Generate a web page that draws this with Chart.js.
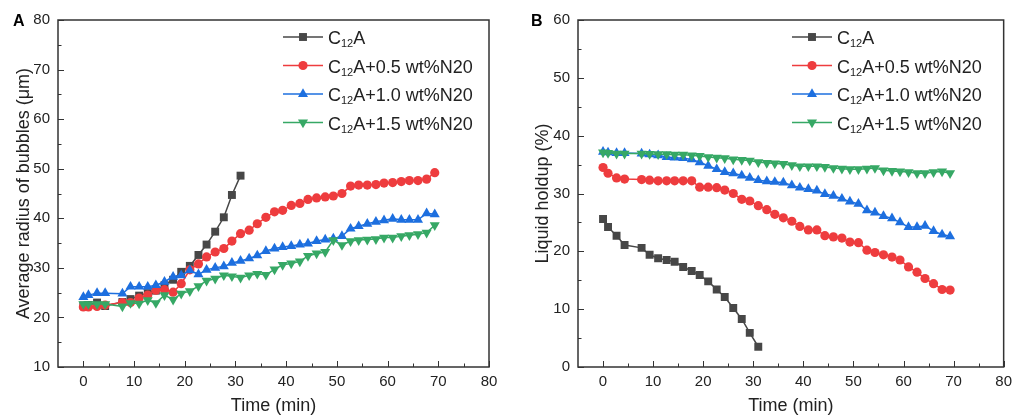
<!DOCTYPE html>
<html>
<head>
<meta charset="utf-8">
<script src="https://cdn.jsdelivr.net/npm/chart.js@4.4.1/dist/chart.umd.min.js"></script>
<style>
body{margin:0;background:#fff;}
#wrap{position:relative;width:1018px;height:415px;}
canvas{position:absolute;top:0;}
</style>
</head>
<body>
<div id="wrap">
  <canvas id="chartA" width="509" height="415" style="left:0"></canvas>
  <canvas id="chartB" width="509" height="415" style="left:509px"></canvas>
</div>
<script>
// sampling times (min), the plain C12A runs stop at 31 min
const times = [0, 1, 2.7, 4.3, 7.7, 9.3, 11, 12.7, 14.3, 16, 17.7, 19.3, 21, 22.7, 24.3, 26, 27.7, 29.3, 31,
  32.7, 34.3, 36, 37.7, 39.3, 41, 42.7, 44.3, 46, 47.7, 49.3, 51, 52.7, 54.3, 56, 57.7, 59.3, 61, 62.7, 64.3, 66, 67.7, 69.3];
const timesC12A = times.slice(0, 19);

const seriesNames = ['C12A', 'C12A+0.5 wt%N20', 'C12A+1.0 wt%N20', 'C12A+1.5 wt%N20'];

// A: average radius of bubbles (um)
const radiusC12A = [22.4, 22.5, 23.0, 22.3, 23.1, 23.7, 24.4, 24.9, 25.4, 26.5, 27.6, 29.2, 30.4, 32.6, 34.7, 37.3, 40.2, 44.7, 48.6];
const radiusN05 = [22.1, 22.1, 22.2, 22.5, 23.0, 23.0, 23.9, 24.5, 25.5, 25.6, 25.1, 26.8, 29.6, 30.8, 32.2, 33.2, 33.9, 35.4, 36.9, 37.6,
  38.9, 40.2, 41.3, 41.6, 42.6, 43.0, 43.8, 44.1, 44.3, 44.5, 45.0, 46.5, 46.7, 46.7, 46.8, 47.1, 47.2, 47.4, 47.6, 47.6, 47.9, 49.2];
const radiusN10 = [24.1, 24.5, 24.9, 24.9, 24.8, 26.2, 26.2, 26.2, 26.5, 27.2, 28.2, 28.5, 29.5, 28.7, 29.6, 30.0, 30.3, 31.0, 31.4, 31.9,
  32.5, 33.4, 33.9, 34.2, 34.4, 34.7, 34.9, 35.4, 35.7, 35.9, 36.4, 37.9, 38.4, 38.9, 39.3, 39.6, 39.9, 39.7, 39.7, 39.7, 41.0, 40.8];
const radiusN15 = [22.7, 22.7, 22.7, 22.7, 22.2, 22.9, 22.8, 23.5, 22.9, 24.5, 23.6, 24.8, 25.3, 26.3, 27.4, 27.8, 28.5, 28.3, 28.0, 28.5,
  28.8, 28.6, 29.7, 30.6, 30.9, 31.3, 32.4, 32.9, 33.2, 35.6, 34.6, 35.4, 35.6, 35.7, 35.8, 36.1, 36.1, 36.4, 36.6, 36.8, 37.1, 38.6];

// B: liquid holdup (%)
const holdupC12A = [25.6, 24.2, 22.7, 21.1, 20.6, 19.4, 18.8, 18.5, 18.2, 17.3, 16.6, 15.9, 14.8, 13.4, 12.1, 10.2, 8.3, 5.9, 3.5];
const holdupN05 = [34.5, 33.5, 32.7, 32.5, 32.4, 32.3, 32.2, 32.2, 32.2, 32.2, 32.2, 31.1, 31.1, 31.0, 30.6, 30.0, 29.0, 28.7, 27.9, 27.2,
  26.4, 25.8, 25.2, 24.3, 23.7, 23.7, 22.7, 22.5, 22.3, 21.6, 21.5, 20.2, 19.8, 19.4, 19.0, 18.5, 17.3, 16.4, 15.3, 14.4, 13.4, 13.3];
const holdupN10 = [37.2, 37.1, 37.0, 37.0, 36.9, 36.75, 36.6, 36.3, 36.2, 36.1, 35.9, 35.4, 34.8, 34.2, 33.7, 33.5, 33.1, 32.7, 32.3, 32.1,
  32.0, 31.9, 31.4, 31.0, 30.75, 30.5, 29.9, 29.6, 29.1, 28.6, 28.2, 27.1, 26.7, 26.1, 25.7, 25.0, 24.2, 24.2, 24.4, 23.5, 22.9, 22.6];
const holdupN15 = [37.1, 37.0, 36.9, 36.9, 36.9, 36.85, 36.8, 36.8, 36.7, 36.7, 36.6, 36.5, 36.3, 36.2, 36.1, 35.9, 35.8, 35.7, 35.4, 35.3,
  35.2, 35.1, 34.9, 34.7, 34.7, 34.7, 34.6, 34.4, 34.3, 34.2, 34.2, 34.3, 34.4, 34.0, 33.9, 33.8, 33.7, 33.5, 33.5, 33.7, 33.8, 33.5];

const xTicks = [0, 10, 20, 30, 40, 50, 60, 70, 80];
const xMinor = [5, 15, 25, 35, 45, 55, 65, 75];
const yTicksA = [10, 20, 30, 40, 50, 60, 70, 80];
const yMinorA = [15, 25, 35, 45, 55, 65, 75];
const yTicksB = [0, 10, 20, 30, 40, 50, 60];
const yMinorB = [5, 15, 25, 35, 45, 55];

const colors = ['#474747', '#ee3c3e', '#1d6fdf', '#36a865'];
const styles = [
  {pointStyle: 'rect', radius: 5.6, rotation: 0},
  {pointStyle: 'circle', radius: 4.6, rotation: 0},
  {pointStyle: 'triangle', radius: 5.8, rotation: 0},
  {pointStyle: 'triangle', radius: 5.8, rotation: 180}
];
const FONT = "Arial, 'Liberation Sans', sans-serif";
const INK = '#222';

function makeDatasets(xsList, ysList){
  return ysList.map((ys, i) => ({
    label: seriesNames[i],
    data: ys.map((y, k) => ({x: xsList[i][k], y})),
    borderColor: colors[i], backgroundColor: colors[i], borderWidth: 1.5,
    pointStyle: styles[i].pointStyle, pointRadius: styles[i].radius, pointRotation: styles[i].rotation,
    pointBorderWidth: 0, pointHoverRadius: styles[i].radius, tension: 0,
    order: 4 - i
  }));
}

function marker(ctx, i, x, y){
  const r = styles[i].radius, s = styles[i];
  ctx.fillStyle = colors[i];
  ctx.beginPath();
  if(s.pointStyle === 'rect'){ const h = Math.SQRT1_2 * r; ctx.rect(x - h, y - h, 2 * h, 2 * h); }
  else if(s.pointStyle === 'circle'){ ctx.arc(x, y, r, 0, Math.PI * 2); }
  else {
    let a = s.rotation * Math.PI / 180;
    ctx.moveTo(x + Math.sin(a) * r, y - Math.cos(a) * r);
    a += Math.PI * 2 / 3; ctx.lineTo(x + Math.sin(a) * r, y - Math.cos(a) * r);
    a += Math.PI * 2 / 3; ctx.lineTo(x + Math.sin(a) * r, y - Math.cos(a) * r);
    ctx.closePath();
  }
  ctx.fill();
}

// box frame, inward ticks, in-plot legend and panel letter
const decor = {
  id: 'decor',
  afterDraw(chart, args, o){
    const ctx = chart.ctx, a = chart.chartArea, xs = chart.scales.x, ys = chart.scales.y;
    ctx.save();
    ctx.strokeStyle = '#333'; ctx.lineWidth = 1;
    const tick = (x1, y1, x2, y2) => { ctx.beginPath(); ctx.moveTo(x1, y1); ctx.lineTo(x2, y2); ctx.stroke(); };
    xTicks.forEach(v => { const p = Math.round(xs.getPixelForValue(v)) + 0.5; tick(p, a.bottom, p, a.bottom - 6); });
    xMinor.forEach(v => { const p = Math.round(xs.getPixelForValue(v)) + 0.5; tick(p, a.bottom, p, a.bottom - 3.5); });
    o.yMajor.forEach(v => { const p = Math.round(ys.getPixelForValue(v)) + 0.5; tick(a.left, p, a.left + 6, p); });
    o.yMinor.forEach(v => { const p = Math.round(ys.getPixelForValue(v)) + 0.5; tick(a.left, p, a.left + 3.5, p); });
    ctx.lineWidth = 1.5;
    ctx.strokeRect(a.left, a.top, a.right - a.left, a.bottom - a.top);

    // legend
    seriesNames.forEach((name, i) => {
      const y = o.legendY + i * 28.5;
      ctx.strokeStyle = colors[i]; ctx.lineWidth = 1.5;
      tick(o.legendX, y, o.legendX + 40, y);
      marker(ctx, i, o.legendX + 20, y);
      ctx.fillStyle = INK; ctx.textBaseline = 'alphabetic'; ctx.textAlign = 'left';
      let tx = o.legendX + 45;
      ctx.font = '18px ' + FONT; ctx.fillText(name[0], tx, y + 7); tx += ctx.measureText(name[0]).width;
      ctx.font = '11px ' + FONT; ctx.fillText(name.slice(1, 3), tx, y + 10); tx += ctx.measureText(name.slice(1, 3)).width;
      ctx.font = '18px ' + FONT; ctx.fillText(name.slice(3), tx, y + 7);
    });

    ctx.fillStyle = '#000'; ctx.font = 'bold 16px ' + FONT;
    ctx.fillText(o.letter, o.letterX, 26);
    ctx.restore();
  }
};

function makeChart(id, dsets, yMin, yMax, yMajor, yMinor, yTitle, yWidth, padRight, titlePad, letter, letterX){
  return new Chart(document.getElementById(id), {
    type: 'line',
    data: {datasets: dsets},
    options: {
      responsive: false, animation: false, devicePixelRatio: 1,
      layout: {padding: {top: 20, right: padRight, left: 0, bottom: 0}},
      plugins: {legend: {display: false}, tooltip: {enabled: false},
        decor: {yMajor, yMinor, legendX: 283, legendY: 37, letter, letterX}},
      scales: {
        x: {type: 'linear', min: -5, max: 80,
          afterBuildTicks: s => { s.ticks = xTicks.map(v => ({value: v})); },
          afterFit: s => { s.height = 48; },
          grid: {display: false, drawTicks: false}, border: {display: false},
          ticks: {autoSkip: false, maxRotation: 0, padding: 6, color: INK, font: {family: FONT, size: 15}},
          title: {display: true, text: 'Time (min)', color: INK, padding: {bottom: 0}, font: {family: FONT, size: 18, lineHeight: 1}}},
        y: {type: 'linear', min: yMin, max: yMax,
          afterBuildTicks: s => { s.ticks = yMajor.map(v => ({value: v})); },
          afterFit: s => { s.width = yWidth; },
          grid: {display: false, drawTicks: false}, border: {display: false},
          ticks: {padding: 8, color: INK, font: {family: FONT, size: 15}},
          title: {display: true, text: yTitle, color: INK, padding: {top: titlePad}, font: {family: FONT, size: 18, lineHeight: 1}}}
      }
    },
    plugins: [decor]
  });
}

const xsLists = [timesC12A, times, times, times];
makeChart('chartA', makeDatasets(xsLists, [radiusC12A, radiusN05, radiusN10, radiusN15]),
  10, 80, yTicksA, yMinorA, 'Average radius of bubbles (\u03bcm)', 58, 20, 15, 'A', 13);
makeChart('chartB', makeDatasets(xsLists, [holdupC12A, holdupN05, holdupN10, holdupN15]),
  0, 60, yTicksB, yMinorB, 'Liquid holdup (%)', 69, 9, 25, 'B', 22);
</script>
</body>
</html>
